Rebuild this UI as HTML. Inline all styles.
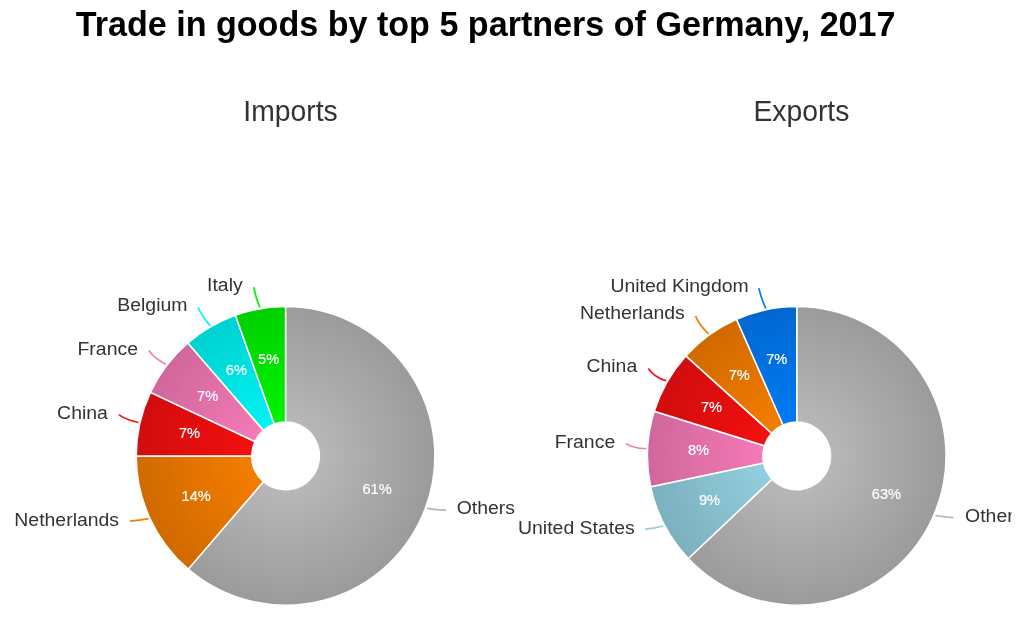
<!DOCTYPE html>
<html lang="en"><head><meta charset="utf-8"><title>Trade in goods by top 5 partners of Germany, 2017</title>
<style>
html,body{margin:0;padding:0;background:#fff;}
body{width:1024px;height:622px;overflow:hidden;font-family:"Liberation Sans", Arial, Helvetica, sans-serif;}
svg{display:block;}
svg text{font-family:"Liberation Sans", Arial, Helvetica, sans-serif;}
.ttl{font-size:34.1px;font-weight:bold;fill:#000;}
.sub{font-size:28.3px;fill:#333;}
.lbl{font-size:18.7px;fill:#333;}
.pct{font-size:14.6px;font-weight:normal;fill:#fff;stroke:#fff;stroke-width:.2px;stroke-linejoin:round;text-anchor:middle;}
.sl{stroke:#fff;stroke-width:1.5;stroke-linejoin:round;}
.cn{fill:none;stroke-width:1.7;stroke-linecap:butt;}
</style></head><body>
<svg width="1024" height="622" viewBox="0 0 1024 622">
<defs>
<clipPath id="clipR"><rect x="0" y="0" width="1011.7" height="622"/></clipPath>
<radialGradient id="g0grey" gradientUnits="userSpaceOnUse" cx="285.55" cy="455.9" r="149.3"><stop offset="0" stop-color="#bfbfbf"/><stop offset="1" stop-color="#9b9b9b"/></radialGradient>
<radialGradient id="g0orange" gradientUnits="userSpaceOnUse" cx="285.55" cy="455.9" r="149.3"><stop offset="0" stop-color="#ff8200"/><stop offset="1" stop-color="#d06a00"/></radialGradient>
<radialGradient id="g0red" gradientUnits="userSpaceOnUse" cx="285.55" cy="455.9" r="149.3"><stop offset="0" stop-color="#ff1010"/><stop offset="1" stop-color="#d00d0d"/></radialGradient>
<radialGradient id="g0pink" gradientUnits="userSpaceOnUse" cx="285.55" cy="455.9" r="149.3"><stop offset="0" stop-color="#ff7fbf"/><stop offset="1" stop-color="#d0679b"/></radialGradient>
<radialGradient id="g0cyan" gradientUnits="userSpaceOnUse" cx="285.55" cy="455.9" r="149.3"><stop offset="0" stop-color="#00ffff"/><stop offset="1" stop-color="#00d0d0"/></radialGradient>
<radialGradient id="g0green" gradientUnits="userSpaceOnUse" cx="285.55" cy="455.9" r="149.3"><stop offset="0" stop-color="#00ff00"/><stop offset="1" stop-color="#00d000"/></radialGradient>
<radialGradient id="g0blue" gradientUnits="userSpaceOnUse" cx="285.55" cy="455.9" r="149.3"><stop offset="0" stop-color="#0080ff"/><stop offset="1" stop-color="#0068d0"/></radialGradient>
<radialGradient id="g0lblue" gradientUnits="userSpaceOnUse" cx="285.55" cy="455.9" r="149.3"><stop offset="0" stop-color="#98d8e9"/><stop offset="1" stop-color="#7cb0be"/></radialGradient>
<radialGradient id="g1grey" gradientUnits="userSpaceOnUse" cx="796.75" cy="455.9" r="149.3"><stop offset="0" stop-color="#bfbfbf"/><stop offset="1" stop-color="#9b9b9b"/></radialGradient>
<radialGradient id="g1orange" gradientUnits="userSpaceOnUse" cx="796.75" cy="455.9" r="149.3"><stop offset="0" stop-color="#ff8200"/><stop offset="1" stop-color="#d06a00"/></radialGradient>
<radialGradient id="g1red" gradientUnits="userSpaceOnUse" cx="796.75" cy="455.9" r="149.3"><stop offset="0" stop-color="#ff1010"/><stop offset="1" stop-color="#d00d0d"/></radialGradient>
<radialGradient id="g1pink" gradientUnits="userSpaceOnUse" cx="796.75" cy="455.9" r="149.3"><stop offset="0" stop-color="#ff7fbf"/><stop offset="1" stop-color="#d0679b"/></radialGradient>
<radialGradient id="g1cyan" gradientUnits="userSpaceOnUse" cx="796.75" cy="455.9" r="149.3"><stop offset="0" stop-color="#00ffff"/><stop offset="1" stop-color="#00d0d0"/></radialGradient>
<radialGradient id="g1green" gradientUnits="userSpaceOnUse" cx="796.75" cy="455.9" r="149.3"><stop offset="0" stop-color="#00ff00"/><stop offset="1" stop-color="#00d000"/></radialGradient>
<radialGradient id="g1blue" gradientUnits="userSpaceOnUse" cx="796.75" cy="455.9" r="149.3"><stop offset="0" stop-color="#0080ff"/><stop offset="1" stop-color="#0068d0"/></radialGradient>
<radialGradient id="g1lblue" gradientUnits="userSpaceOnUse" cx="796.75" cy="455.9" r="149.3"><stop offset="0" stop-color="#98d8e9"/><stop offset="1" stop-color="#7cb0be"/></radialGradient>
</defs>
<rect width="100%" height="100%" fill="#fff"/>
<text class="ttl" transform="translate(485.6 36.3) scale(1 1.03)" text-anchor="middle">Trade in goods by top 5 partners of Germany, 2017</text>
<text class="sub" transform="translate(290.5 121.1) scale(1 1.05)" text-anchor="middle">Imports</text>
<text class="sub" transform="translate(801.4 121.1) scale(1 1.05)" text-anchor="middle">Exports</text>
<g clip-path="url(#clipR)">
<g>
<path class="sl" fill="url(#g0grey)" d="M285.55 306.60A149.3 149.3 0 1 1 188.23 569.12L263.49 481.57A33.85 33.85 0 1 0 285.55 422.05Z"/>
<path class="sl" fill="url(#g0orange)" d="M188.23 569.12A149.3 149.3 0 0 1 136.25 455.90L251.70 455.90A33.85 33.85 0 0 0 263.49 481.57Z"/>
<path class="sl" fill="url(#g0red)" d="M136.25 455.90A149.3 149.3 0 0 1 150.46 392.33L254.92 441.49A33.85 33.85 0 0 0 251.70 455.90Z"/>
<path class="sl" fill="url(#g0pink)" d="M150.46 392.33A149.3 149.3 0 0 1 187.88 342.98L263.40 430.30A33.85 33.85 0 0 0 254.92 441.49Z"/>
<path class="sl" fill="url(#g0cyan)" d="M187.88 342.98A149.3 149.3 0 0 1 235.42 315.27L274.18 424.02A33.85 33.85 0 0 0 263.40 430.30Z"/>
<path class="sl" fill="url(#g0green)" d="M235.42 315.27A149.3 149.3 0 0 1 285.55 306.60L285.55 422.05A33.85 33.85 0 0 0 274.18 424.02Z"/>
<path class="cn" stroke="#b4b4b4" d="M446.10 510.10Q436.20 510.15 427.15 508.40"/>
<path class="cn" stroke="#f57d00" d="M129.90 521.10Q139.35 520.50 148.60 518.70"/>
<path class="cn" stroke="#f50f0f" d="M118.90 414.50Q123.45 419.05 138.50 422.50"/>
<path class="cn" stroke="#f57ab7" d="M148.90 350.40Q152.80 357.10 165.80 364.40"/>
<path class="cn" stroke="#00f5f5" d="M197.80 307.25Q202.25 316.85 210.10 325.85"/>
<path class="cn" stroke="#00f500" d="M253.80 287.20Q255.55 297.45 259.90 307.50"/>
<text class="lbl" transform="translate(456.70 514.15) scale(1.04 1)" text-anchor="start">Others</text>
<text class="lbl" transform="translate(119.10 525.85) scale(1.04 1)" text-anchor="end">Netherlands</text>
<text class="lbl" transform="translate(107.90 418.85) scale(1.04 1)" text-anchor="end">China</text>
<text class="lbl" transform="translate(138.00 355.05) scale(1.04 1)" text-anchor="end">France</text>
<text class="lbl" transform="translate(187.50 311.05) scale(1.04 1)" text-anchor="end">Belgium</text>
<text class="lbl" transform="translate(242.70 291.05) scale(1.04 1)" text-anchor="end">Italy</text>
<text class="pct" x="377.1" y="493.8">61%</text>
<text class="pct" x="196.2" y="500.7">14%</text>
<text class="pct" x="189.5" y="437.7">7%</text>
<text class="pct" x="207.6" y="400.7">7%</text>
<text class="pct" x="236.4" y="374.7">6%</text>
<text class="pct" x="268.6" y="363.5">5%</text>
</g>
<g>
<path class="sl" fill="url(#g1grey)" d="M796.75 306.60A149.3 149.3 0 1 1 688.30 558.51L772.16 479.16A33.85 33.85 0 1 0 796.75 422.05Z"/>
<path class="sl" fill="url(#g1lblue)" d="M688.30 558.51A149.3 149.3 0 0 1 650.69 486.82L763.63 462.91A33.85 33.85 0 0 0 772.16 479.16Z"/>
<path class="sl" fill="url(#g1pink)" d="M650.69 486.82A149.3 149.3 0 0 1 654.27 411.28L764.45 445.78A33.85 33.85 0 0 0 763.63 462.91Z"/>
<path class="sl" fill="url(#g1red)" d="M654.27 411.28A149.3 149.3 0 0 1 685.88 355.91L771.61 433.23A33.85 33.85 0 0 0 764.45 445.78Z"/>
<path class="sl" fill="url(#g1orange)" d="M685.88 355.91A149.3 149.3 0 0 1 736.51 319.29L783.09 424.93A33.85 33.85 0 0 0 771.61 433.23Z"/>
<path class="sl" fill="url(#g1blue)" d="M736.51 319.29A149.3 149.3 0 0 1 796.75 306.60L796.75 422.05A33.85 33.85 0 0 0 783.09 424.93Z"/>
<path class="cn" stroke="#b4b4b4" d="M953.30 517.70Q943.90 517.10 935.20 515.50"/>
<path class="cn" stroke="#92cfe0" d="M645.20 529.15Q654.50 528.50 663.00 526.00"/>
<path class="cn" stroke="#f57ab7" d="M626.15 443.60Q634.40 448.85 646.20 448.50"/>
<path class="cn" stroke="#f50f0f" d="M648.30 368.40Q654.55 377.20 666.20 380.80"/>
<path class="cn" stroke="#f57d00" d="M695.50 316.20Q699.75 326.00 708.60 333.80"/>
<path class="cn" stroke="#007bf5" d="M758.80 288.20Q761.10 298.05 765.80 308.50"/>
<text class="lbl" transform="translate(965.10 522.45) scale(1.04 1)" text-anchor="start">Others</text>
<text class="lbl" transform="translate(634.70 533.55) scale(1.04 1)" text-anchor="end">United States</text>
<text class="lbl" transform="translate(615.20 448.05) scale(1.04 1)" text-anchor="end">France</text>
<text class="lbl" transform="translate(637.20 372.35) scale(1.04 1)" text-anchor="end">China</text>
<text class="lbl" transform="translate(684.80 319.45) scale(1.04 1)" text-anchor="end">Netherlands</text>
<text class="lbl" transform="translate(748.70 292.35) scale(1.04 1)" text-anchor="end">United Kingdom</text>
<text class="pct" x="886.4" y="498.7">63%</text>
<text class="pct" x="709.5" y="505.0">9%</text>
<text class="pct" x="698.5" y="454.9">8%</text>
<text class="pct" x="711.5" y="411.5">7%</text>
<text class="pct" x="739.3" y="380.2">7%</text>
<text class="pct" x="776.7" y="364.0">7%</text>
</g>
</g>
</svg>
</body></html>
